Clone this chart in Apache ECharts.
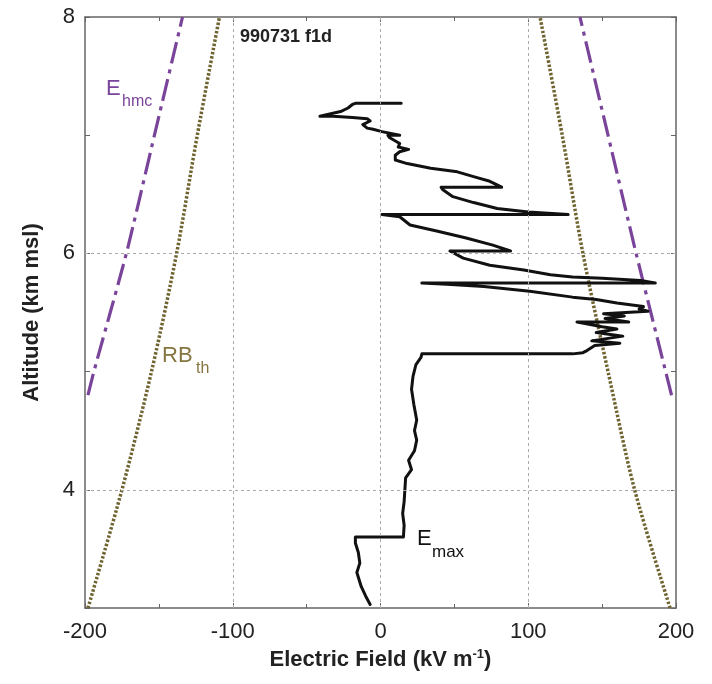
<!DOCTYPE html>
<html>
<head>
<meta charset="utf-8">
<script src="https://cdn.jsdelivr.net/npm/echarts@6/dist/echarts.min.js"></script>
<style>
html,body{margin:0;padding:0;background:#fff;}
#chart{width:712px;height:684px;}
</style>
</head>
<body>
<div id="chart"></div>
<script>
// ---- data ----
const xTickLabels = [-200, -100, 0, 100, 200];
const yTickLabels = [4, 6, 8];
const gridX = [-100, 0, 100];
const gridY = [4, 6];

const hmcAlt = [4.8, 5.0, 6.0, 7.0, 8.0];
const hmcLeft = [-198, -194, -172, -153, -134];
const hmcRight = [197, 193, 173, 154, 135];

const rbAlt = [3.0, 4.0, 5.0, 6.0, 7.0, 8.0];
const rbLeft = [-198, -175, -155, -138, -124, -109];
const rbRight = [196, 172, 154, 137, 123, 108];

const emaxField = [
  -7, -10, -13, -16, -14, -15, -17, -17, 15.5, 16, 15, 16, 16.5, 17, 21, 19, 23, 24.5, 23, 24.5,
  22.6, 21, 22, 24, 27.4, 28, 130, 137, 140, 145, 162, 143, 164, 146, 160, 150, 133, 168, 152, 165,
  151, 181, 175, 178, 160, 146, 130, 101, 70, 45, 28, 186, 176, 150, 130, 115, 97, 74, 56, 47,
  88, 76, 58, 38, 20, 13, 1, 127, 100, 79, 63, 49, 42, 41, 82, 74, 63, 52, 34, 18,
  10, 10, 13, 19, 12, 13, 6, 5, 13, 1, -5, -9, -12, -7, -9, -19, -32, -41, -27, -22,
  -19, -17, 14
];
const emaxAlt = [
  3.03, 3.10, 3.18, 3.30, 3.38, 3.47, 3.55, 3.60, 3.60, 3.70, 3.80, 3.90, 4.00, 4.10, 4.17, 4.25, 4.33, 4.42, 4.50, 4.59,
  4.72, 4.85, 4.96, 5.06, 5.12, 5.15, 5.15, 5.16, 5.18, 5.22, 5.24, 5.26, 5.30, 5.33, 5.36, 5.38, 5.42, 5.42, 5.45, 5.47,
  5.49, 5.51, 5.53, 5.55, 5.58, 5.61, 5.63, 5.68, 5.72, 5.74, 5.75, 5.75, 5.77, 5.79, 5.80, 5.82, 5.86, 5.90, 5.96, 6.02,
  6.02, 6.07, 6.13, 6.19, 6.24, 6.31, 6.33, 6.33, 6.35, 6.38, 6.43, 6.48, 6.54, 6.56, 6.56, 6.61, 6.65, 6.69, 6.72, 6.76,
  6.79, 6.83, 6.86, 6.88, 6.90, 6.93, 6.98, 7.00, 7.00, 7.03, 7.05, 7.06, 7.09, 7.12, 7.14, 7.15, 7.16, 7.16, 7.20, 7.23,
  7.26, 7.27, 7.27
];

const pair = (xs, ys) => xs.map((x, i) => [x, ys[i]]);

const FONT = '"Liberation Sans", Arial, sans-serif';
const PURPLE = '#7a449a';
const OLIVE = '#6f6430';
const OLIVE_TXT = '#857640';

const chart = echarts.init(document.getElementById('chart'), null, {renderer: 'canvas'});

const baseX = {
  type: 'value', min: -200, max: 200, interval: 100,
  axisLine: {show: true, onZero: false, lineStyle: {color: '#666', width: 1.5}},
  axisTick: {show: true, inside: true, length: 5, lineStyle: {color: '#666'}},
  minorTick: {show: true, splitNumber: 2, length: 4, lineStyle: {color: '#666'}},
  splitLine: {show: false}
};
const baseY = {
  type: 'value', min: 3, max: 8, interval: 1,
  axisLine: {show: true, onZero: false, lineStyle: {color: '#666', width: 1.5}},
  axisTick: {show: true, inside: true, length: 5, lineStyle: {color: '#666'}},
  splitLine: {show: false}
};

const option = {
  backgroundColor: '#fff',
  animation: false,
  grid: {left: 85, right: 36, top: 17, bottom: 76, containLabel: false},
  xAxis: [
    Object.assign({}, baseX, {
      position: 'bottom',
      axisLabel: {show: true, margin: 13, fontSize: 22, color: '#222', fontFamily: FONT,
        formatter: v => xTickLabels.includes(v) ? String(v) : ''},
      name: 'Electric Field (kV m{sup|-1})',
      nameLocation: 'middle', nameGap: 39,
      nameTextStyle: {fontSize: 22, fontWeight: 'bold', color: '#222', fontFamily: FONT,
        rich: {sup: {fontSize: 13, fontWeight: 'bold', color: '#222', fontFamily: FONT, padding: [0, 0, 12, 0]}}}
    }),
    Object.assign({}, baseX, {position: 'top', axisLabel: {show: false}})
  ],
  yAxis: [
    Object.assign({}, baseY, {
      position: 'left',
      axisLabel: {show: true, margin: 10, fontSize: 22, color: '#222', fontFamily: FONT,
        formatter: v => yTickLabels.includes(v) ? String(v) : ''},
      name: 'Altitude (km msl)',
      nameLocation: 'middle', nameGap: 42,
      nameTextStyle: {fontSize: 22, fontWeight: 'bold', color: '#222', fontFamily: FONT}
    }),
    Object.assign({}, baseY, {position: 'right', axisLabel: {show: false}})
  ],
  series: [
    {
      type: 'line', data: [], silent: true,
      markLine: {
        silent: true, symbol: 'none', label: {show: false},
        lineStyle: {color: '#aaa', type: [3, 3], width: 1},
        data: gridX.map(v => ({xAxis: v})).concat(gridY.map(v => ({yAxis: v})))
      }
    },
    {type: 'line', data: pair(hmcLeft, hmcAlt), showSymbol: false, symbol: 'none', smooth: 0.2,
      lineStyle: {color: PURPLE, width: 3.2, type: [22, 6, 4, 6]}},
    {type: 'line', data: pair(hmcRight, hmcAlt), showSymbol: false, symbol: 'none', smooth: 0.2,
      lineStyle: {color: PURPLE, width: 3.2, type: [22, 6, 4, 6]}},
    {type: 'line', data: pair(rbLeft, rbAlt), showSymbol: false, symbol: 'none', smooth: 0.3,
      lineStyle: {color: OLIVE, width: 3.5, type: [2.5, 1.8]}},
    {type: 'line', data: pair(rbRight, rbAlt), showSymbol: false, symbol: 'none', smooth: 0.3,
      lineStyle: {color: OLIVE, width: 3.5, type: [2.5, 1.8]}},
    {type: 'line', data: pair(emaxField, emaxAlt), showSymbol: false, symbol: 'none',
      lineStyle: {color: '#111', width: 3, join: 'round', cap: 'round'}}
  ],
  graphic: [
    {type: 'text', x: 240, y: 37, style: {text: '990731 f1d', font: 'bold 18px ' + FONT, fill: '#222', verticalAlign: 'middle'}},
    {type: 'text', x: 106, y: 89, style: {text: 'E', font: '22px ' + FONT, fill: PURPLE, verticalAlign: 'middle'}},
    {type: 'text', x: 122, y: 102, style: {text: 'hmc', font: '16px ' + FONT, fill: PURPLE, verticalAlign: 'middle'}},
    {type: 'text', x: 162, y: 356, style: {text: 'RB', font: '22px ' + FONT, fill: OLIVE_TXT, verticalAlign: 'middle'}},
    {type: 'text', x: 196, y: 369, style: {text: 'th', font: '16px ' + FONT, fill: OLIVE_TXT, verticalAlign: 'middle'}},
    {type: 'text', x: 417, y: 539, style: {text: 'E', font: '22px ' + FONT, fill: '#111', verticalAlign: 'middle'}},
    {type: 'text', x: 432, y: 552, style: {text: 'max', font: '17px ' + FONT, fill: '#111', verticalAlign: 'middle'}}
  ]
};
chart.setOption(option);
</script>
</body>
</html>
